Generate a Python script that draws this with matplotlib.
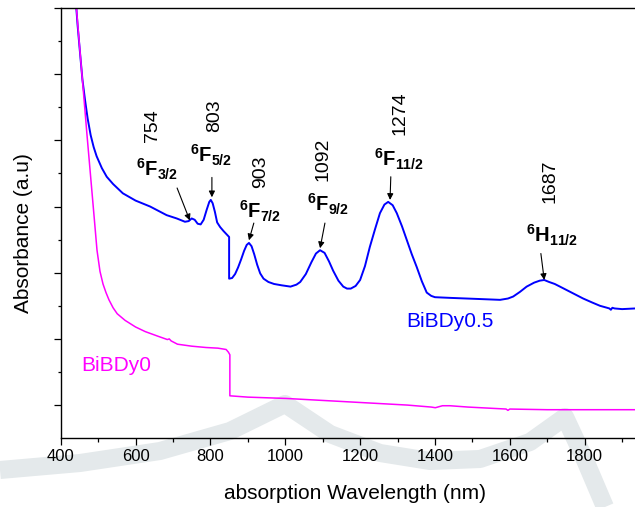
import matplotlib
matplotlib.use('Agg')
import matplotlib.pyplot as plt
from matplotlib.ticker import MultipleLocator
from matplotlib.lines import Line2D

plt.rcParams['font.family'] = ['Liberation Sans', 'DejaVu Sans']
plt.rcParams['mathtext.fontset'] = 'custom'
plt.rcParams['mathtext.rm'] = 'Liberation Sans'
plt.rcParams['mathtext.bf'] = 'Liberation Sans:bold'

# BiBDy0.5 (blue)
wl_dy05 = [440, 445, 452, 458, 465, 472, 480, 488, 496, 510, 523, 540, 566, 600, 639,
           683, 710, 732, 742, 750, 758, 766, 774, 782, 790, 797, 801, 806, 812, 818,
           826, 835, 845, 850, 850, 858, 866, 874, 882, 890, 897, 903, 910, 917, 925,
           933, 942, 955, 970, 990, 1014, 1030, 1040, 1055, 1070, 1082, 1093, 1105, 1117,
           1128, 1142, 1155, 1165, 1175, 1188, 1200, 1213, 1226, 1240, 1253, 1265, 1275,
           1287, 1298, 1312, 1325, 1338, 1351, 1365, 1378, 1390, 1400, 1440, 1485, 1530,
           1574, 1595, 1609, 1627, 1645, 1665, 1680, 1692, 1705, 1720, 1734, 1765, 1796,
           1820, 1841, 1860, 1866, 1870, 1874, 1880, 1900, 1935]
abs_dy05 = [6.13, 5.75, 5.30, 4.92, 4.61, 4.33, 4.08, 3.90, 3.76, 3.58, 3.45, 3.34, 3.20, 3.09, 3.00,
            2.87, 2.82, 2.77, 2.78, 2.82, 2.80, 2.74, 2.73, 2.80, 2.95, 3.07, 3.10, 3.05, 2.92, 2.76,
            2.69, 2.63, 2.57, 2.54, 1.91, 1.92, 1.98, 2.08, 2.20, 2.33, 2.42, 2.45, 2.40, 2.28, 2.12,
            1.99, 1.91, 1.86, 1.83, 1.81, 1.79, 1.82, 1.86, 1.98, 2.16, 2.29, 2.34, 2.30, 2.17,
            2.03, 1.88, 1.79, 1.76, 1.76, 1.80, 1.89, 2.10, 2.39, 2.66, 2.90, 3.03, 3.07,
            3.02, 2.90, 2.70, 2.49, 2.28, 2.09, 1.87, 1.70, 1.65, 1.63, 1.62, 1.61, 1.60,
            1.59, 1.61, 1.64, 1.71, 1.79, 1.85, 1.88, 1.89, 1.86, 1.83, 1.79, 1.70, 1.61,
            1.55, 1.50, 1.47, 1.46, 1.44, 1.47, 1.46, 1.45, 1.46]

# BiBDy0 (magenta)
wl_dy0 = [440, 450, 460, 470, 480, 490, 497, 505, 513, 521, 529, 540, 551, 572, 600,
          626, 660, 685, 690, 695, 712, 750, 788, 820, 842, 848, 852, 852, 900, 1003,
          1165, 1326, 1390, 1401, 1420, 1440, 1488, 1590, 1595, 1600, 1700, 1935]
abs_dy0 = [6.13, 5.45, 4.78, 4.10, 3.45, 2.80, 2.34, 2.02, 1.83, 1.70, 1.59, 1.47, 1.38, 1.28, 1.18,
           1.11, 1.04, 0.99, 1.00, 0.97, 0.92, 0.89, 0.87, 0.86, 0.84, 0.80, 0.76, 0.14, 0.12, 0.10,
           0.05, 0.00, -0.03, -0.04, -0.01, -0.01, -0.03, -0.06, -0.08, -0.06, -0.07, -0.07]

# peak labels: wavelength text, term, (tail, tip) of arrow
peak_names = ['754', '803', '903', '1092', '1274', '1687']
peak_terms = [r'$\mathbf{^{6}F_{3/2}}$', r'$\mathbf{^{6}F_{5/2}}$', r'$\mathbf{^{6}F_{7/2}}$',
              r'$\mathbf{^{6}F_{9/2}}$', r'$\mathbf{^{6}F_{11/2}}$', r'$\mathbf{^{6}H_{11/2}}$']
num_pos = [(644, 4.23), (810, 4.38), (935, 3.52), (1101, 3.72), (1307, 4.41), (1707, 3.38)]
term_pos = [(658, 3.46), (803, 3.67), (932, 2.82), (1113, 2.92), (1305, 3.60), (1714, 2.45)]
arrow_tail = [(711, 3.28), (804, 3.44), (916, 2.75), (1106, 2.75), (1282, 3.45), (1683, 2.29)]
arrow_tip = [(745, 2.79), (804, 3.14), (903, 2.49), (1093, 2.37), (1280, 3.10), (1692, 1.89)]

fig = plt.figure(figsize=(6.35, 5.07), dpi=100)

# faint watermark behind the plot (figure pixel coords, y from top)
wm = [(0, 470), (80, 463), (160, 451), (230, 431), (285, 404), (330, 434), (380, 453),
      (430, 461), (480, 459), (530, 442), (565, 417), (585, 460), (605, 507)]
fig.add_artist(Line2D([p[0] / 635 for p in wm], [1 - p[1] / 507 for p in wm],
                      transform=fig.transFigure, color='#e4e9eb', lw=13,
                      solid_capstyle='butt', solid_joinstyle='round', zorder=0))

ax = fig.add_axes([60.7 / 635, 69.5 / 507, 574.3 / 635, 429.5 / 507])
ax.set_facecolor('none')

ax.plot(wl_dy05, abs_dy05, color='#0000ff', lw=1.4)
ax.plot(wl_dy0, abs_dy0, color='#ff00ff', lw=1.1)

ax.set_xlim(400, 1934.5)
ax.set_ylim(-0.49, 6.0)

ax.xaxis.set_major_locator(MultipleLocator(200))
ax.xaxis.set_minor_locator(MultipleLocator(100))
ax.yaxis.set_major_locator(MultipleLocator(1))
ax.yaxis.set_minor_locator(MultipleLocator(0.5))
ax.tick_params(axis='x', which='major', direction='out', length=5, width=0.9, labelsize=12, pad=3)
ax.tick_params(axis='x', which='minor', direction='out', length=3, width=0.9)
ax.tick_params(axis='y', which='major', direction='out', length=5, width=0.9, labelleft=False)
ax.tick_params(axis='y', which='minor', direction='out', length=2.5, width=0.9)
ax.spines['right'].set_visible(False)
for s in ['left', 'bottom', 'top']:
    ax.spines[s].set_linewidth(1.0)

ax.set_xlabel('absorption Wavelength (nm)', fontsize=15)
ax.xaxis.set_label_coords(0.5116, -0.108)
ax.set_ylabel('Absorbance (a.u)', fontsize=15)
ax.yaxis.set_label_coords(-0.048, 0.476)

ax.text(455, 0.6, 'BiBDy0', color='#ff00ff', fontsize=15, ha='left', va='center')
ax.text(1322, 1.26, 'BiBDy0.5', color='#0000ff', fontsize=15, ha='left', va='center')

for name, term, npos, tpos, tail, tip in zip(peak_names, peak_terms, num_pos, term_pos,
                                             arrow_tail, arrow_tip):
    ax.text(npos[0], npos[1], name, rotation=90, fontsize=14, ha='center', va='center')
    ax.text(tpos[0], tpos[1], term, fontsize=14.5, ha='center', va='baseline')
    ax.annotate('', xy=tip, xytext=tail,
                arrowprops=dict(arrowstyle='-|>', color='black', lw=0.8,
                                mutation_scale=9, shrinkA=0, shrinkB=0))

fig.savefig('out.png', dpi=100)
